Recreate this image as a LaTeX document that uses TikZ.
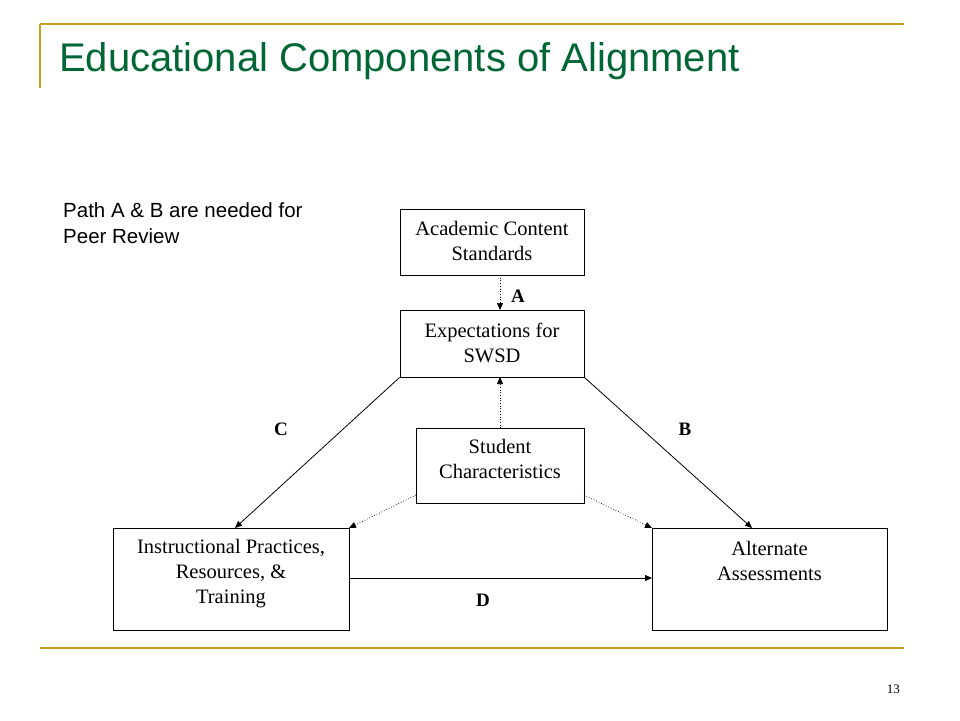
\documentclass[tikz,border=0pt]{standalone}
\usepackage{fontspec}
\setmainfont{Liberation Serif}
\newfontfamily\arialfont{Liberation Sans}
\usetikzlibrary{arrows.meta}
\definecolor{gold}{RGB}{200,160,30}
\definecolor{titlegreen}{RGB}{0,102,51}
\tikzset{
  box/.style={draw, line width=0.9pt, inner sep=0pt},
  boxtxt/.style={align=center, font=\fontsize{20.5}{25}\selectfont, inner sep=0pt},
  solidarrow/.style={line width=0.8pt, -{Triangle[length=7pt,width=6pt]}},
  dotarrow/.style={line width=0.7pt, dotted, -{Triangle[length=7pt,width=6pt]}},
  lbl/.style={font=\fontsize{19}{22}\selectfont\bfseries},
}
\begin{document}
\begin{tikzpicture}[x=1pt,y=-1pt]
\useasboundingbox (0,0) rectangle (960,720);
% decorations
\draw[gold, line width=1.8pt] (40,24) -- (904,24);
\draw[gold, line width=1.8pt] (40,24) -- (40,88);
\draw[gold, line width=1.8pt] (40,648) -- (904,648);
\node[anchor=base west, text=titlegreen, font=\arialfont\fontsize{40}{44}\selectfont, inner sep=0pt] (title) at (59,71) {Educational Components of Alignment};
\node[anchor=base east, font=\fontsize{13}{15}\selectfont, inner sep=0pt] (pg) at (900,693) {13};
\node[anchor=base west, align=left, font=\arialfont\fontsize{20.5}{26}\selectfont, inner sep=0pt] (note1) at (63,217) {Path A \& B are needed for};
\node[anchor=base west, align=left, font=\arialfont\fontsize{20.5}{26}\selectfont, inner sep=0pt] (note2) at (63,243) {Peer Review};
% boxes
\node[box, minimum width=184pt, minimum height=66pt] (acs) at (492,242) {};
\node[box, minimum width=184pt, minimum height=67pt] (exp) at (492,343.5) {};
\node[box, minimum width=168pt, minimum height=75pt] (stu) at (500,465.5) {};
\node[box, minimum width=236pt, minimum height=102pt] (ins) at (231,579) {};
\node[box, minimum width=235pt, minimum height=102pt] (alt) at (769.5,579) {};
% box texts
\node[boxtxt] (acst) at (492,241) {Academic Content\\Standards};
\node[boxtxt] (expt) at (492,343) {Expectations for\\SWSD};
\node[boxtxt] (stut) at (500,459) {Student\\Characteristics};
\node[boxtxt] (inst) at (231,574) {Instructional Practices,\\Resources, \&\\Training};
\node[boxtxt] (altt) at (769.5,561) {Alternate\\Assessments};
% coordinates
\coordinate (aS) at (500,275);
\coordinate (eN) at (500,310);
\coordinate (eS) at (500,377);
\coordinate (sN) at (500,428);
\coordinate (sW) at (416,495);
\coordinate (sE) at (584,495);
\coordinate (iNE) at (349,528);
\coordinate (aNW) at (652,528);
\coordinate (iN) at (235,528);
\coordinate (aN) at (752,528);
\coordinate (iE) at (349,578);
\coordinate (aW) at (652,578);
% arrows
\draw[dotarrow] (aS) -- (eN);
\draw[dotarrow] (sN) -- (eS);
\draw[dotarrow] (sW) -- (iNE);
\draw[dotarrow] (sE) -- (aNW);
\draw[solidarrow] (exp.south west) -- (iN);
\draw[solidarrow] (exp.south east) -- (aN);
\draw[solidarrow] (iE) -- (aW);
% labels
\node[lbl] (la) at (518,296) {A};
\node[lbl] (lb) at (685,429) {B};
\node[lbl] (lc) at (281,429) {C};
\node[lbl] (ld) at (483,600) {D};
\end{tikzpicture}
\end{document}
